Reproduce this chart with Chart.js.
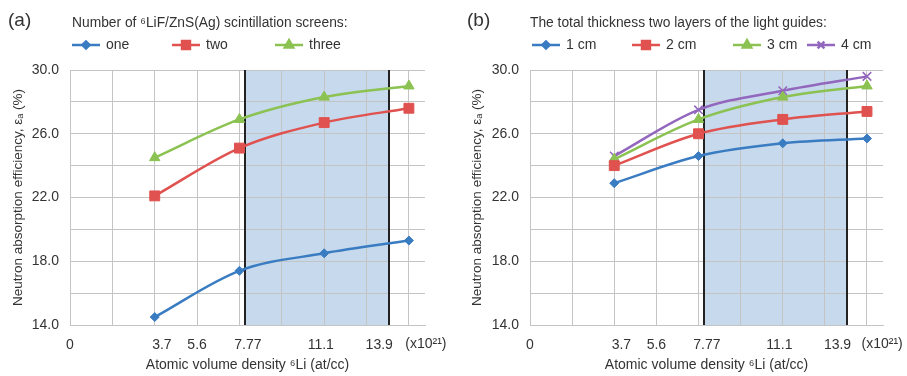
<!DOCTYPE html>
<html>
<head>
<meta charset="utf-8">
<script src="https://cdn.jsdelivr.net/npm/chart.js@4.4.1/dist/chart.umd.min.js"></script>
<style>
body { margin: 0; background: #fff; width: 907px; height: 376px; overflow: hidden; display: flex; }
canvas { display: block; }
</style>
</head>
<body>
<canvas id="chartA" width="455" height="376"></canvas>
<canvas id="chartB" width="452" height="376"></canvas>
<script>
// x positions (in grid units) of the four densities, and the axis labels
const xPos = [2, 4, 6, 8];
const densities = ['3.7', '7.77', '11.1', '13.9'];
const tickPos = [0, 2.17, 3, 4.2, 5.92, 7.3];
const tickText = ['0', '3.7', '5.6', '7.77', '11.1', '13.9'];
const shade = [4.12, 7.52];

// (a) number of 6LiF/ZnS(Ag) screens
const screenLabels = ['one', 'two', 'three'];
const screenOne = [14.5, 17.4, 18.5, 19.3];
const screenTwo = [22.1, 25.1, 26.7, 27.6];
const screenThree = [24.5, 26.9, 28.3, 29.0];

// (b) total thickness of the light guides
const guideLabels = ['1 cm', '2 cm', '3 cm', '4 cm'];
const guide1 = [22.9, 24.6, 25.4, 25.7];
const guide2 = [24.0, 26.0, 26.9, 27.4];
const guide3 = [24.4, 26.9, 28.3, 29.0];
const guide4 = [24.6, 27.5, 28.7, 29.6];

const BLUE = '#3a7cc2', RED = '#e0524f', GREEN = '#8bc251', PURPLE = '#9267bd';
const FONT = 'Liberation Sans, Arial, sans-serif';
const TXT = '#333';

const markers = {
    [BLUE]: { pointStyle: 'rectRot', radius: 4.5 },
    [RED]: { pointStyle: 'rect', radius: 7 },
    [GREEN]: { pointStyle: 'triangle', radius: 6 },
    [PURPLE]: { pointStyle: 'crossRot', radius: 6 }
};

function series(label, values, color) {
    const m = markers[color];
    return {
        label: label,
        data: values.map((v, i) => ({ x: xPos[i], y: v })),
        borderColor: color,
        backgroundColor: color,
        borderWidth: 2.5,
        pointStyle: m.pointStyle,
        pointRadius: m.radius,
        pointBorderWidth: m.pointStyle === 'crossRot' ? 1.5 : 1,
        pointBackgroundColor: color,
        cubicInterpolationMode: 'monotone',
        tension: 0.4
    };
}

// shading, black bounds, legend and panel label
const decor = {
    id: 'decor',
    beforeDraw(chart, args, o) {
        const { ctx, chartArea: a, scales: { x } } = chart;
        ctx.save();
        ctx.fillStyle = '#c6d9ed';
        const x0 = x.getPixelForValue(shade[0]), x1 = x.getPixelForValue(shade[1]);
        ctx.fillRect(x0, a.top, x1 - x0, a.bottom - a.top);
        ctx.restore();
    },
    beforeDatasetsDraw(chart) {
        const { ctx, chartArea: a, scales: { x } } = chart;
        ctx.save();
        ctx.strokeStyle = '#222';
        ctx.lineWidth = 2;
        shade.forEach(s => {
            const px = Math.round(x.getPixelForValue(s));
            ctx.beginPath();
            ctx.moveTo(px, a.top);
            ctx.lineTo(px, a.bottom);
            ctx.stroke();
        });
        ctx.restore();
    },
    afterDraw(chart, args, o) {
        const { ctx, chartArea: a, scales: { x } } = chart;
        ctx.save();
        ctx.fillStyle = TXT;
        ctx.textBaseline = 'middle';
        ctx.font = '19px ' + FONT;
        ctx.fillText(o.panel, o.panelX, 21);
        ctx.font = '13.8px ' + FONT;
        ctx.fillText(o.title, o.titleX, 23);
        chart.data.datasets.forEach((ds, i) => {
            const lx = o.itemX[i], ly = 45;
            ctx.strokeStyle = ds.borderColor;
            ctx.lineWidth = 2.5;
            ctx.beginPath();
            ctx.moveTo(lx, ly);
            ctx.lineTo(lx + 28, ly);
            ctx.stroke();
            ctx.fillStyle = ds.borderColor;
            Chart.helpers.drawPoint(ctx, {
                pointStyle: ds.pointStyle,
                radius: ds.pointRadius * 0.8,
                borderWidth: ds.pointBorderWidth,
                rotation: 0
            }, lx + 14, ly);
            if (ds.pointStyle !== 'crossRot') ctx.fill();
            ctx.fillStyle = TXT;
            ctx.font = '14px ' + FONT;
            ctx.fillText(ds.label, lx + 34, ly);
        });
        ctx.font = '14px ' + FONT;
        ctx.textAlign = 'center';
        ctx.fillText('(x10²¹)', x.getPixelForValue(o.unitPos), 344);
        ctx.restore();
    }
};

function makeChart(id, datasets, o) {
    return new Chart(document.getElementById(id), {
        type: 'line',
        data: { datasets: datasets },
        options: {
            responsive: false,
            animation: false,
            devicePixelRatio: 1,
            layout: { padding: { top: 70, left: o.padLeft, right: o.padRight, bottom: 0 } },
            plugins: {
                legend: { display: false },
                tooltip: { enabled: false },
                decor: o
            },
            scales: {
                x: {
                    type: 'linear',
                    min: 0,
                    max: 8.38,
                    afterBuildTicks: s => {
                        const v = [0, 1, 2, 3, 4, 5, 6, 7, 8].concat(tickPos.filter(p => !Number.isInteger(p)));
                        s.ticks = v.sort((p, q) => p - q).map(p => ({ value: p }));
                    },
                    afterFit: s => { s.height = 51; },
                    ticks: {
                        autoSkip: false,
                        maxRotation: 0,
                        padding: 12,
                        color: TXT,
                        font: { family: FONT, size: 14 },
                        callback: v => {
                            const i = tickPos.findIndex(p => Math.abs(p - v) < 1e-6);
                            return i < 0 ? '' : tickText[i];
                        }
                    },
                    grid: {
                        drawTicks: false,
                        color: c => (c.tick && Number.isInteger(c.tick.value)) ? '#c4c4c4' : 'rgba(0,0,0,0)'
                    },
                    border: { color: '#c4c4c4' },
                    title: {
                        display: true,
                        text: 'Atomic volume density ⁶Li (at/cc)',
                        color: TXT,
                        font: { family: FONT, size: 14 },
                        padding: { top: 0, bottom: 2 }
                    }
                },
                y: {
                    min: 14,
                    max: 30,
                    afterFit: s => { s.width = o.yWidth; },
                    ticks: {
                        stepSize: 2,
                        padding: 11,
                        color: TXT,
                        font: { family: FONT, size: 14 },
                        callback: v => ((v - 14) % 4 === 0 ? v.toFixed(1) : '')
                    },
                    grid: { drawTicks: false, color: '#c4c4c4' },
                    border: { color: '#c4c4c4' },
                    title: {
                        display: true,
                        text: 'Neutron absorption efficiency, εₐ (%)',
                        color: TXT,
                        font: { family: FONT, size: 13.5 },
                        padding: { top: o.yTitlePad, bottom: 0 }
                    }
                }
            }
        },
        plugins: [decor]
    });
}

makeChart('chartA', [
    series(screenLabels[0], screenOne, BLUE),
    series(screenLabels[1], screenTwo, RED),
    series(screenLabels[2], screenThree, GREEN)
], {
    panel: '(a)', panelX: 8,
    title: 'Number of ⁶LiF/ZnS(Ag) scintillation screens:', titleX: 72,
    itemX: [72, 172, 275],
    unitPos: 8.4,
    padLeft: 0, padRight: 30, yWidth: 70, yTitlePad: 10
});

makeChart('chartB', [
    series(guideLabels[0], guide1, BLUE),
    series(guideLabels[1], guide2, RED),
    series(guideLabels[2], guide3, GREEN),
    series(guideLabels[3], guide4, PURPLE)
], {
    panel: '(b)', panelX: 12,
    title: 'The total thickness two layers of the light guides:', titleX: 75,
    itemX: [77, 177, 278, 352],
    unitPos: 8.36,
    padLeft: 5, padRight: 24, yWidth: 70, yTitlePad: 9
});
</script>
</body>
</html>
